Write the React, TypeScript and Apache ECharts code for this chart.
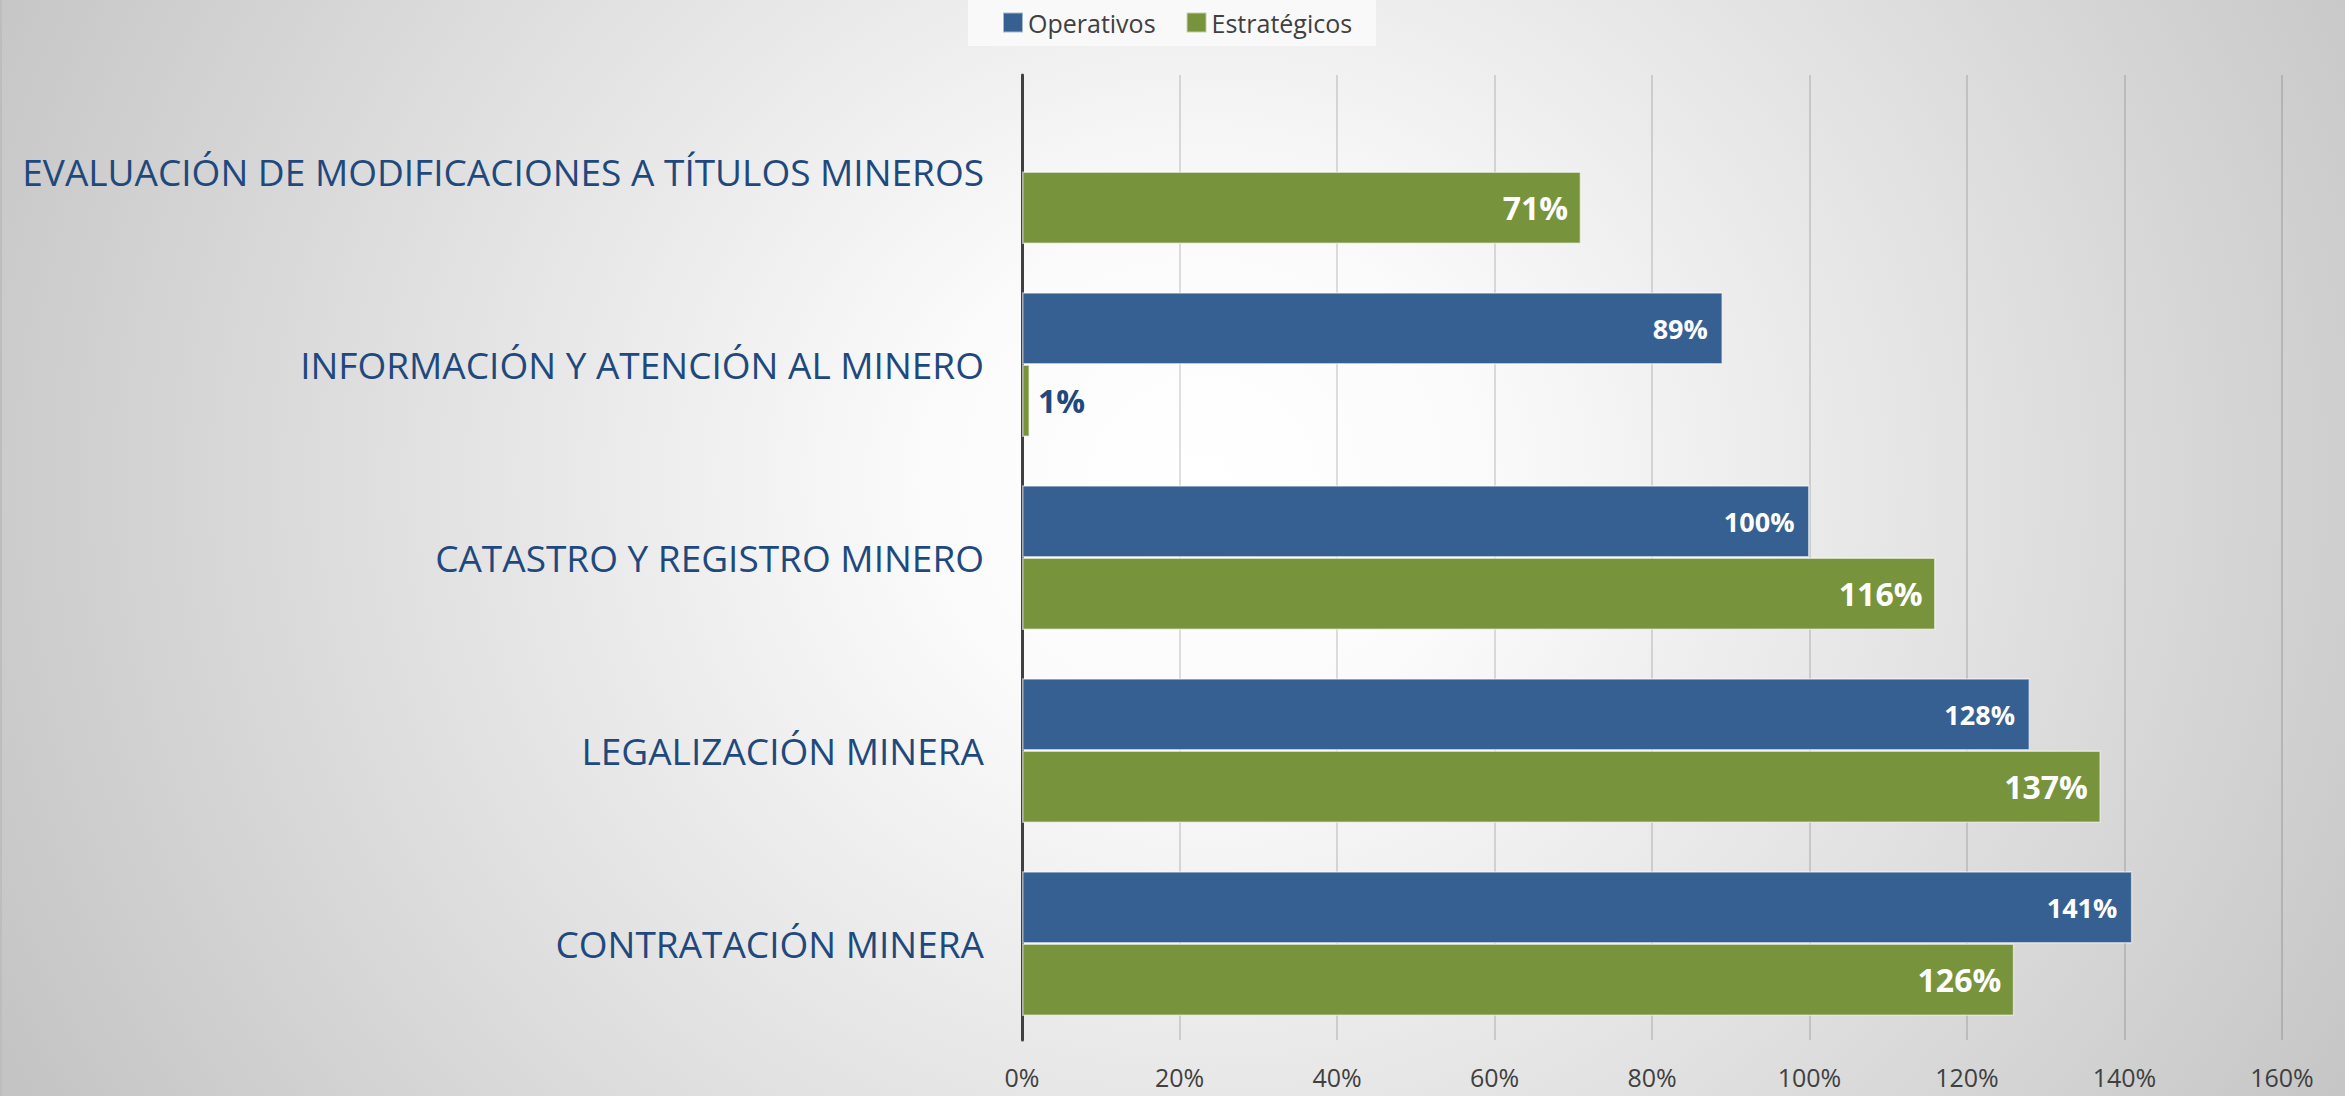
import React, { useEffect, useRef } from 'react';
import * as echarts from 'echarts';

const categories = [
  'EVALUACIÓN DE MODIFICACIONES A TÍTULOS MINEROS',
  'INFORMACIÓN Y ATENCIÓN AL MINERO',
  'CATASTRO Y REGISTRO MINERO',
  'LEGALIZACIÓN MINERA',
  'CONTRATACIÓN MINERA',
];
const seriesNames = ['Operativos', 'Estratégicos'];
const operativos: (number | null)[] = [null, 89, 100, 128, 141];
const estrategicos: number[] = [71, 1, 116, 137, 126];
const axisMin = 0;
const axisMax = 160;
const axisInterval = 20;

const FONT = "'Open Sans', 'Noto Sans', sans-serif";

export default function App() {
  const ref = useRef<HTMLDivElement>(null);
  useEffect(() => {
    document.body.style.margin = '0';
    if (!ref.current) return;
    const chart = echarts.init(ref.current, undefined, { renderer: 'svg' });
    chart.setOption({
      animation: false,
      backgroundColor: 'transparent',
      textStyle: { fontFamily: FONT },
      legend: {
        data: seriesNames,
        left: 968,
        top: 0,
        padding: [10, 24, 11, 34],
        itemGap: 30,
        itemWidth: 20,
        itemHeight: 20,
        icon: 'rect',
        backgroundColor: 'rgba(250,250,250,0.85)',
        textStyle: { fontSize: 25, color: '#404040', fontFamily: FONT },
      },
      grid: { left: 1022, right: 69, top: 75, bottom: 56, containLabel: false },
      xAxis: {
        type: 'value',
        min: axisMin,
        max: axisMax,
        interval: axisInterval,
        axisLine: { show: false },
        axisTick: { show: false },
        splitLine: { show: true, lineStyle: { color: 'rgba(0,0,0,0.17)', width: 1.5 } },
        axisLabel: {
          formatter: '{value}%',
          fontSize: 25,
          color: '#404040',
          margin: 24,
          fontFamily: FONT,
        },
      },
      yAxis: {
        type: 'category',
        inverse: true,
        data: categories,
        axisLine: { show: true, lineStyle: { color: '#404040', width: 3 } },
        axisTick: { show: false },
        axisLabel: {
          fontSize: 37,
          color: '#1f497d',
          margin: 38,
          fontFamily: FONT,
        },
      },
      series: [
        {
          name: seriesNames[0],
          type: 'bar',
          barGap: '0%',
          barCategoryGap: '25%',
          data: operativos,
          itemStyle: { color: '#376092', borderColor: 'rgba(255,255,255,0.55)', borderWidth: 1.5 },
          label: {
            show: true,
            position: 'insideRight',
            distance: 15,
            formatter: '{c}%',
            color: '#ffffff',
            fontWeight: 'bold',
            fontSize: 27,
            fontFamily: FONT,
          },
        },
        {
          name: seriesNames[1],
          type: 'bar',
          barGap: '0%',
          barCategoryGap: '25%',
          data: estrategicos.map((v) =>
            v < 5
              ? { value: v, label: { position: 'right', color: '#1f497d', distance: 8 } }
              : v
          ),
          itemStyle: { color: '#77933c', borderColor: 'rgba(255,255,255,0.55)', borderWidth: 1.5 },
          label: {
            show: true,
            position: 'insideRight',
            distance: 13,
            formatter: '{c}%',
            color: '#ffffff',
            fontWeight: 'bold',
            fontSize: 32,
            fontFamily: FONT,
          },
        },
      ],
    });
    return () => chart.dispose();
  }, []);

  return (
    <div style={{ width: 2351, height: 1096, background: '#ffffff', position: 'relative' }}>
      <div
        style={{
          position: 'absolute',
          left: 0,
          top: 0,
          width: 2345,
          height: 1096,
          borderLeft: '2px solid #bdbdbd',
          boxSizing: 'border-box',
          background:
            'radial-gradient(ellipse 1350px 1250px at 1200px 480px, #ffffff 0%, #fbfbfb 20%, #e0e0e0 60%, #c4c4c4 100%)',
        }}
      />
      <div ref={ref} style={{ position: 'absolute', left: 0, top: 0, width: 2351, height: 1096 }} />
    </div>
  );
}
